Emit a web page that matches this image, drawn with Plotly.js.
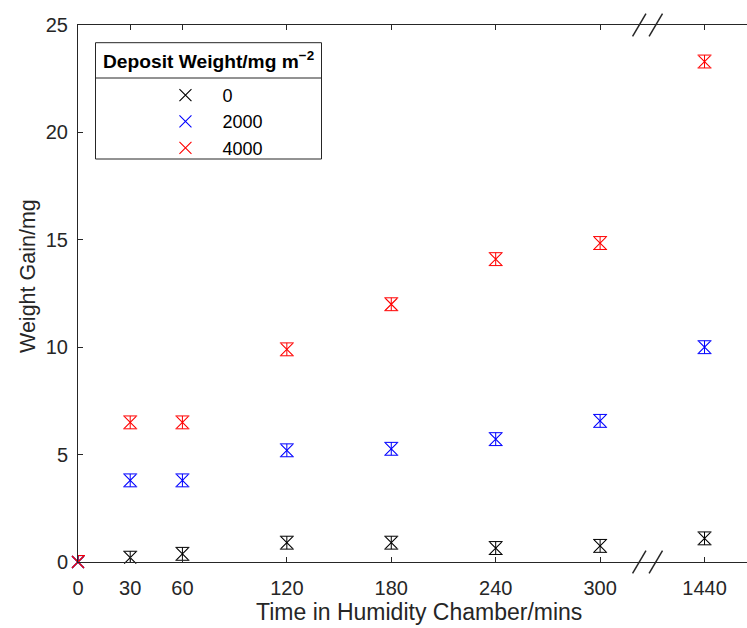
<!DOCTYPE html>
<html><head><meta charset="utf-8">
<script src="https://cdn.plot.ly/plotly-3.0.1.min.js"></script>
<style>html,body{margin:0;padding:0;overflow:hidden;background:#fff}</style>
</head><body><div id="chart" style="width:747px;height:628px"></div>
<script>
// ---- data ----
const times = [0, 30, 60, 120, 180, 240, 300, 1440];          // minutes
const tickLabels = ['0', '30', '60', '120', '180', '240', '300', '1440'];
const seriesNames = ['0', '2000', '4000'];                     // deposit weight mg m^-2
const gain0    = [0, 0.2, 0.38, 0.9, 0.9, 0.65, 0.75, 1.1];
const gain2000 = [0, 3.8, 3.8, 5.2, 5.27, 5.72, 6.57, 10.0];
const gain4000 = [0, 6.5, 6.5, 9.9, 12.0, 14.1, 14.85, 23.3];
const err0     = [0.3, 0.3, 0.3, 0.3, 0.3, 0.3, 0.3, 0.3];
const err2000  = [0.3, 0.3, 0.3, 0.3, 0.3, 0.3, 0.3, 0.3];
const err4000  = [0.3, 0.3, 0.3, 0.3, 0.3, 0.3, 0.3, 0.3];
const colors = ['#000000', '#0000ff', '#ff0000'];
const xTitle = 'Time in Humidity Chamber/mins';
const yTitle = 'Weight Gain/mg';
const legendTitle = '<b>Deposit Weight/mg m<sup>−2</sup></b>';

// broken axis: values up to 300 are linear, 1440 is placed after the break
const BREAK_END = 300, AFTER_BREAK = 360;
function axisPos(t) { return t <= BREAK_END ? t : AFTER_BREAK; }
const xPos = times.map(axisPos);

const gains = [gain0, gain2000, gain4000];
const errs = [err0, err2000, err4000];
const axisColor = '#262626';
const FONT = 'Liberation Sans, Arial, Helvetica, sans-serif';

const traces = seriesNames.map((name, i) => ({
  type: 'scatter', mode: 'markers', name: name,
  x: xPos, y: gains[i],
  error_y: {type: 'data', array: errs[i], visible: true, color: colors[i], thickness: 1, width: 7},
  marker: {symbol: 'x-thin-open', size: 12, color: colors[i], line: {color: colors[i], width: 1.1}},
  cliponaxis: false
}));

// break marks
function slash(cx, yp) {
  return {type: 'line', xref: 'x', yref: 'paper', xsizemode: 'pixel', ysizemode: 'pixel',
    xanchor: cx, yanchor: yp, x0: -6.7, x1: 6.7, y0: -11.3, y1: 11.3,
    line: {color: axisColor, width: 1.5}};
}
const shapes = [
  slash(322.5, 0), slash(332, 0), slash(322.5, 1), slash(332, 1),
  // legend frame
  {type: 'rect', xref: 'paper', yref: 'paper', xsizemode: 'pixel', ysizemode: 'pixel',
   xanchor: 0, yanchor: 1, x0: 17.5, x1: 243.5, y0: -17.7, y1: -134,
   line: {color: axisColor, width: 1}, fillcolor: 'rgba(0,0,0,0)'},
  {type: 'line', xref: 'paper', yref: 'paper', xsizemode: 'pixel', ysizemode: 'pixel',
   xanchor: 0, yanchor: 1, x0: 17.5, x1: 243.5, y0: -53, y1: -53,
   line: {color: axisColor, width: 1}}
];

const annotations = [
  {text: xTitle, xref: 'paper', yref: 'paper', x: 0.5101, y: 0, xanchor: 'center', yanchor: 'middle',
   yshift: -50, showarrow: false, font: {size: 23, color: axisColor, family: FONT}},
  {text: yTitle, xref: 'paper', yref: 'paper', x: 0, y: 0.5326, xanchor: 'center', yanchor: 'middle',
   xshift: -50, textangle: -90, showarrow: false, font: {size: 21.5, color: axisColor, family: FONT}},
  {text: legendTitle, xref: 'paper', yref: 'paper', x: 0, y: 1, xanchor: 'left', yanchor: 'middle',
   xshift: 23, yshift: -35, showarrow: false, font: {size: 19.2, color: '#000', family: FONT}}
];

const layout = {
  width: 747, height: 628,
  margin: {l: 77.5, r: 0, t: 25, b: 66},
  paper_bgcolor: '#fff', plot_bgcolor: '#fff',
  font: {family: FONT, color: axisColor},
  showlegend: true,
  xaxis: {
    range: [0, 384.4], tickmode: 'array', tickvals: times.map(axisPos), ticktext: tickLabels,
    ticks: 'inside', ticklen: 5, tickcolor: axisColor, showline: true, linecolor: axisColor, linewidth: 1,
    mirror: 'ticks', showgrid: false, zeroline: false, ticklabelstandoff: 8,
    tickfont: {size: 20, color: axisColor, family: FONT}
  },
  yaxis: {
    range: [0, 25], tickmode: 'linear', tick0: 0, dtick: 5,
    ticks: 'inside', ticklen: 5, tickcolor: axisColor, showline: true, linecolor: axisColor, linewidth: 1,
    mirror: false, showgrid: false, zeroline: false, ticklabelstandoff: 5,
    tickfont: {size: 20, color: axisColor, family: FONT}
  },
  legend: {
    x: 0.1053, y: 0.9035, xanchor: 'left', yanchor: 'top',
    bgcolor: 'rgba(0,0,0,0)', borderwidth: 0, itemwidth: 64,
    font: {size: 18, color: '#000', family: FONT}
  },
  shapes: shapes,
  annotations: annotations
};

Plotly.newPlot('chart', traces, layout, {displayModeBar: false, staticPlot: true});
</script></body></html>
